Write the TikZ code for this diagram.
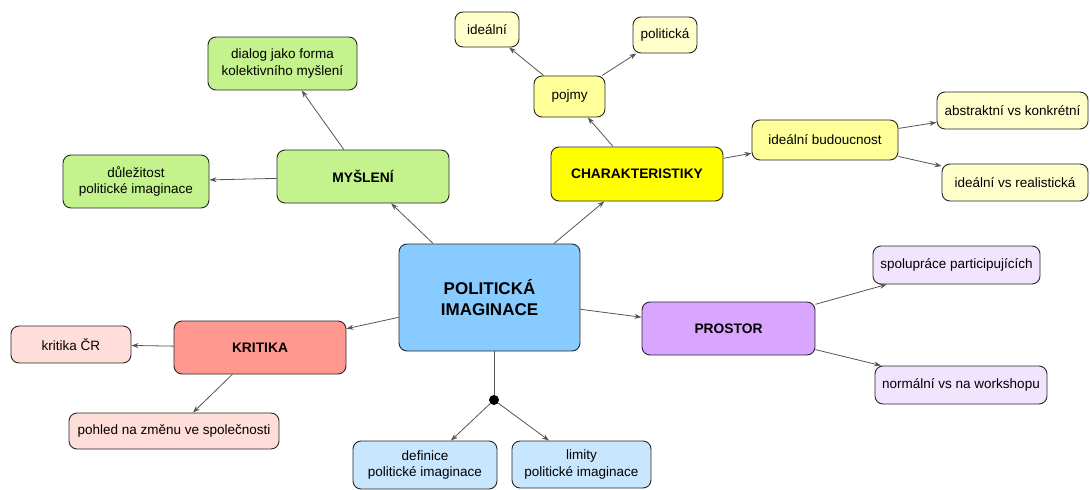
\documentclass[tikz,border=0pt]{standalone}
\usepackage{fontspec}
\setmainfont{Liberation Sans}
\usetikzlibrary{arrows.meta}
\definecolor{cblue}{HTML}{88CCFF}
\definecolor{cgreen}{HTML}{C4F28C}
\definecolor{cyellow}{HTML}{FFFF00}
\definecolor{cyel2}{HTML}{FFFF99}
\definecolor{cyel3}{HTML}{FFFFCC}
\definecolor{cpurple}{HTML}{D9A6FF}
\definecolor{cpurple2}{HTML}{F1E4FF}
\definecolor{cred}{HTML}{FF9990}
\definecolor{cred2}{HTML}{FFDDD8}
\definecolor{cblue2}{HTML}{C8E7FF}
\definecolor{edgecol}{HTML}{555555}
\begin{document}
\begin{tikzpicture}[x=1pt,y=-1pt,
  box/.style={draw=black!85, line width=0.9pt, rounded corners=8pt, align=center,
    inner sep=2pt, font=\fontsize{13.5}{16.5}\selectfont},
  main/.style={box, font=\fontsize{13.8}{16.5}\selectfont\bfseries},
  link/.style={draw=edgecol, line width=0.8pt, -{Stealth[length=7pt,width=5pt]}},
  plain/.style={draw=edgecol, line width=0.8pt}]
\useasboundingbox (0,0) rectangle (1090,490);

% central topic
\node[box, fill=cblue, minimum width=181pt, minimum height=107pt,
  font=\fontsize{17}{21}\selectfont\bfseries] (center) at (489.5,297.5) {POLITICKÁ\\IMAGINACE};

% MYŠLENÍ branch
\node[main, fill=cgreen, minimum width=172pt, minimum height=53pt] (mys) at (363,176.5) {MYŠLENÍ};
\node[box, fill=cgreen, minimum width=149pt, minimum height=53pt] (dialog) at (282.5,63.5) {dialog jako forma\\kolektivního myšlení};
\node[box, fill=cgreen, minimum width=146pt, minimum height=53pt] (dul) at (136,181.5) {důležitost\\politické imaginace};

% CHARAKTERISTIKY branch
\node[main, fill=cyellow, minimum width=172pt, minimum height=54pt] (char) at (637,174) {CHARAKTERISTIKY};
\node[box, fill=cyel2, minimum width=71pt, minimum height=41pt] (pojmy) at (569.5,96.5) {pojmy};
\node[box, fill=cyel3, minimum width=64pt, minimum height=35pt] (ideal) at (487,29.5) {ideální};
\node[box, fill=cyel3, minimum width=64pt, minimum height=36pt] (polit) at (665,35) {politická};
\node[box, fill=cyel2, minimum width=146pt, minimum height=40pt] (budou) at (825,140) {ideální budoucnost};
\node[box, fill=cyel3, minimum width=151pt, minimum height=37pt] (abstr) at (1012.5,110.5) {abstraktní vs konkrétní};
\node[box, fill=cyel3, minimum width=146pt, minimum height=37pt] (realis) at (1015,182.5) {ideální vs realistická};

% PROSTOR branch
\node[main, fill=cpurple, minimum width=173pt, minimum height=53pt] (prostor) at (728.5,328.5) {PROSTOR};
\node[box, fill=cpurple2, minimum width=167pt, minimum height=38pt] (spol) at (956.5,265) {spolupráce participujících};
\node[box, fill=cpurple2, minimum width=172pt, minimum height=38pt] (norm) at (961,385) {normální vs na workshopu};

% KRITIKA branch
\node[main, fill=cred, minimum width=172pt, minimum height=53pt] (krit) at (260,347.5) {KRITIKA};
\node[box, fill=cred2, minimum width=120pt, minimum height=37pt] (kritcr) at (71,344.5) {kritika ČR};
\node[box, fill=cred2, minimum width=210pt, minimum height=36pt] (pohled) at (174,431) {pohled na změnu ve společnosti};

% joint below the centre
\node[circle, fill=black, inner sep=0pt, minimum size=10pt] (dot) at (494,400) {};
\node[box, fill=cblue2, minimum width=144pt, minimum height=48pt] (def) at (425,465) {definice\\politické imaginace};
\node[box, fill=cblue2, minimum width=139pt, minimum height=47pt] (lim) at (581.5,464.5) {limity\\politické imaginace};

% connectors
\draw[link] (center) -- (mys);
\draw[link] (center) -- (char);
\draw[link] (center) -- (prostor);
\draw[link] (center) -- (krit);
\draw[plain] (center.south -| dot) -- (dot);
\draw[link] (dot) -- (def);
\draw[link] (dot) -- (lim);

\draw[link] (mys) -- (dialog);
\draw[link] (mys) -- (dul);

\draw[link] (char) -- (pojmy);
\draw[link] (pojmy) -- (ideal);
\draw[link] (pojmy) -- (polit);
\draw[link] (char) -- (budou);
\draw[link] (budou) -- (abstr);
\draw[link] (budou) -- (realis);

\draw[link] (prostor) -- (spol);
\draw[link] (prostor) -- (norm);

\draw[link] (krit) -- (kritcr);
\draw[link] (krit) -- (pohled);
\end{tikzpicture}
\end{document}
